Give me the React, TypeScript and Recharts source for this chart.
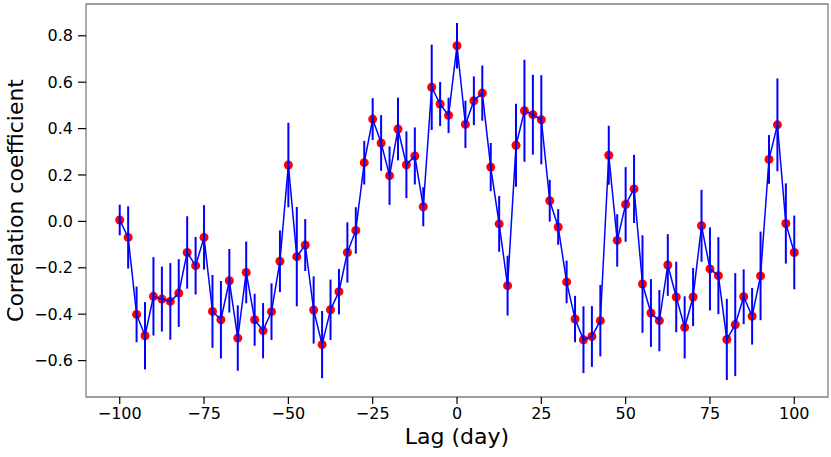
import { ComposedChart, Line, XAxis, YAxis, ErrorBar, ReferenceArea } from 'recharts'

const lags = [
  -100, -97.5, -95, -92.5, -90, -87.5, -85, -82.5, -80, -77.5, -75, -72.5, -70, -67.5, -65, -62.5, -60, -57.5, -55, -52.5,
  -50, -47.5, -45, -42.5, -40, -37.5, -35, -32.5, -30, -27.5, -25, -22.5, -20, -17.5, -15, -12.5, -10, -7.5, -5, -2.5, 0,
  2.5, 5, 7.5, 10, 12.5, 15, 17.5, 20, 22.5, 25, 27.5, 30, 32.5, 35, 37.5, 40, 42.5, 45, 47.5, 50, 52.5,
  55, 57.5, 60, 62.5, 65, 67.5, 70, 72.5, 75, 77.5, 80, 82.5, 85, 87.5, 90, 92.5, 95, 97.5, 100,
]

const corr = [
  0.006, -0.069, -0.401, -0.493, -0.323, -0.335, -0.345, -0.309, -0.134, -0.191, -0.069, -0.388, -0.424, -0.256, -0.503,
  -0.22, -0.424, -0.471, -0.389, -0.172,
  0.243, -0.152, -0.102, -0.382, -0.531, -0.381, -0.303, -0.134, -0.039, 0.253, 0.441, 0.338, 0.197, 0.398, 0.244, 0.282,
  0.063, 0.578, 0.506, 0.457, 0.757,
  0.418, 0.52, 0.553, 0.234, -0.011, -0.277, 0.328, 0.477, 0.46, 0.438, 0.089, -0.024, -0.261, -0.421, -0.51, -0.496,
  -0.428, 0.285, -0.082, 0.073, 0.14,
  -0.27, -0.395, -0.428, -0.188, -0.326, -0.457, -0.326, -0.019, -0.205, -0.234, -0.509, -0.445, -0.325, -0.409, -0.235,
  0.267, 0.416, -0.009, -0.134,
]

const errs = [
  0.066, 0.134, 0.12, 0.145, 0.169, 0.14, 0.165, 0.146, 0.156, 0.124, 0.139, 0.157, 0.167, 0.137, 0.141, 0.133, 0.112,
  0.119, 0.122, 0.133,
  0.182, 0.214, 0.112, 0.145, 0.145, 0.13, 0.098, 0.13, 0.1, 0.094, 0.09, 0.12, 0.126, 0.135, 0.144, 0.123, 0.084, 0.184,
  0.095, 0.076, 0.098,
  0.102, 0.105, 0.119, 0.104, 0.12, 0.129, 0.179, 0.22, 0.172, 0.192, 0.09, 0.077, 0.092, 0.1, 0.144, 0.131, 0.154, 0.127,
  0.113, 0.161, 0.147,
  0.21, 0.146, 0.132, 0.133, 0.152, 0.134, 0.125, 0.155, 0.179, 0.166, 0.175, 0.222, 0.118, 0.122, 0.191, 0.105, 0.2,
  0.173, 0.159,
]

const xTicks = [-100, -75, -50, -25, 0, 25, 50, 75, 100]
const yTicks = [-0.6, -0.4, -0.2, 0, 0.2, 0.4, 0.6, 0.8]

const X_MIN = -110
const X_MAX = 110
const Y_MIN = -0.757
const Y_MAX = 0.937

const data = lags.map((lag, i) => ({ lag, corr: corr[i], err: errs[i] }))

const FONT = '"DejaVu Sans", sans-serif'
const minus = (s: string) => s.replace('-', '\u2212')

export default function App() {
  return (
    <div style={{ position: 'absolute', left: 0, top: 0, width: 831, height: 457, background: '#fff' }}>
      <ComposedChart width={831} height={457} data={data} margin={{ top: 4, right: 3, left: 0, bottom: 0 }}>
        <XAxis
          dataKey="lag"
          type="number"
          domain={[X_MIN, X_MAX]}
          ticks={xTicks}
          allowDataOverflow
          height={60}
          axisLine={false}
          tickLine={{ stroke: '#000', strokeWidth: 1.2 }}
          tickSize={7}
          tickMargin={4}
          tick={{ fill: '#000', fontSize: 16, fontFamily: FONT }}
          tickFormatter={(v: number) => minus(String(v))}
          label={{
            content: ({ viewBox }: any) => (
              <text
                x={viewBox.x + viewBox.width / 2}
                y={viewBox.y + 47}
                textAnchor="middle"
                fontSize={22}
                fontFamily={FONT}
                fill="#000"
              >
                Lag (day)
              </text>
            ),
          }}
        />
        <YAxis
          type="number"
          domain={[Y_MIN, Y_MAX]}
          ticks={yTicks}
          allowDataOverflow
          width={86}
          axisLine={false}
          tickLine={{ stroke: '#000', strokeWidth: 1.2 }}
          tickSize={8}
          tickMargin={5}
          tick={{ fill: '#000', fontSize: 16, fontFamily: FONT }}
          tickFormatter={(v: number) => minus(v.toFixed(1))}
          label={{
            content: ({ viewBox }: any) => {
              const x = viewBox.x + 23
              const y = viewBox.y + viewBox.height / 2
              return (
                <text
                  x={x}
                  y={y}
                  transform={`rotate(-90, ${x}, ${y})`}
                  textAnchor="middle"
                  fontSize={22}
                  fontFamily={FONT}
                  fill="#000"
                >
                  Correlation coefficient
                </text>
              )
            },
          }}
        />
        <ReferenceArea
          x1={X_MIN}
          x2={X_MAX}
          y1={Y_MIN}
          y2={Y_MAX}
          fill="none"
          stroke="#7f7f7f"
          strokeWidth={1.3}
          fillOpacity={0}
        />
        {/* red markers sit underneath the blue line and error bars */}
        <Line
          dataKey="corr"
          stroke="none"
          isAnimationActive={false}
          activeDot={false}
          zIndex={300}
          dot={{ r: 4.5, fill: '#ff0000', stroke: 'none' }}
        />
        <Line
          dataKey="corr"
          stroke="#0000ff"
          strokeWidth={1.5}
          isAnimationActive={false}
          activeDot={false}
          zIndex={700}
          dot={false}
        >
          <ErrorBar dataKey="err" width={0} stroke="#0000ff" strokeWidth={2} direction="y" zIndex={700} />
        </Line>
      </ComposedChart>
    </div>
  )
}
